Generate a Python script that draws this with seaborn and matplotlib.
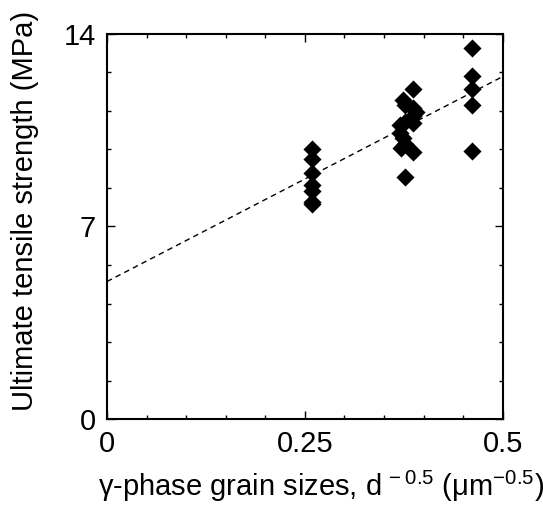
import numpy as np
import pandas as pd
from matplotlib import pyplot as plt
from matplotlib.ticker import AutoMinorLocator
import seaborn as sbn

sbn.set_style("ticks")
plt.rcParams['font.family'] = ['Liberation Sans', 'DejaVu Sans']
plt.rcParams['mathtext.fontset'] = 'custom'
plt.rcParams['mathtext.rm'] = 'Liberation Sans'
plt.rcParams['mathtext.default'] = 'regular'
plt.rcParams['text.color'] = 'black'
plt.rcParams['axes.labelcolor'] = 'black'
plt.rcParams['xtick.color'] = 'black'
plt.rcParams['ytick.color'] = 'black'

grain_x = [0.259] * 7 + [0.386, 0.374, 0.376, 0.386, 0.390, 0.386, 0.376,
                         0.370, 0.386, 0.370, 0.374, 0.376, 0.372, 0.386, 0.376] + [0.461] * 5
strength = [9.8, 9.45, 8.95, 8.5, 8.3, 7.9, 7.8] + \
           [12.0, 11.6, 11.4, 11.3, 11.15, 11.0, 10.8, 10.7, 10.75, 10.4, 10.2, 10.0, 9.85, 9.7, 8.8] + \
           [13.5, 12.45, 12.0, 11.4, 9.75]

# Hall-Petch type fit line (endpoints)
fit_x = [0.0, 0.5]
fit_y = [5.0, 12.45]

df = pd.DataFrame({"d": grain_x, "uts": strength})

fig, ax = plt.subplots(figsize=(5.43, 5.05), dpi=100)
fig.subplots_adjust(left=0.197, right=0.926, bottom=0.170, top=0.933)

ax.plot(fit_x, fit_y, color="black", linestyle=(0, (4, 3)), linewidth=1.0, zorder=1)
sbn.scatterplot(data=df, x="d", y="uts", marker="D", s=85, color="black",
                edgecolor="black", linewidth=0, ax=ax, zorder=2)

ax.set_xlim(0, 0.5)
ax.set_ylim(0, 14)
ax.set_xticks([0, 0.25, 0.5])
ax.set_xticklabels(["0", "0.25", "0.5"])
ax.set_yticks([0, 7, 14])
ax.xaxis.set_minor_locator(AutoMinorLocator(5))
ax.yaxis.set_minor_locator(AutoMinorLocator(5))
ax.tick_params(which="both", direction="in", top=True, right=True, width=1.0, color="black")
ax.tick_params(which="major", length=6, labelsize=21, pad=8)
ax.tick_params(which="minor", length=3)
for s in ax.spines.values():
    s.set_linewidth(1.5)
    s.set_color("black")

ax.set_xlabel("γ-phase grain sizes, d$^{\\,-0.5}$ (μm$^{-0.5}$)", fontsize=21)
ax.set_ylabel("Ultimate tensile strength (MPa)", fontsize=21)
ax.xaxis.set_label_coords(0.54, -0.128)
ax.yaxis.set_label_coords(-0.172, 0.54)

plt.savefig("out.png", dpi=100)
